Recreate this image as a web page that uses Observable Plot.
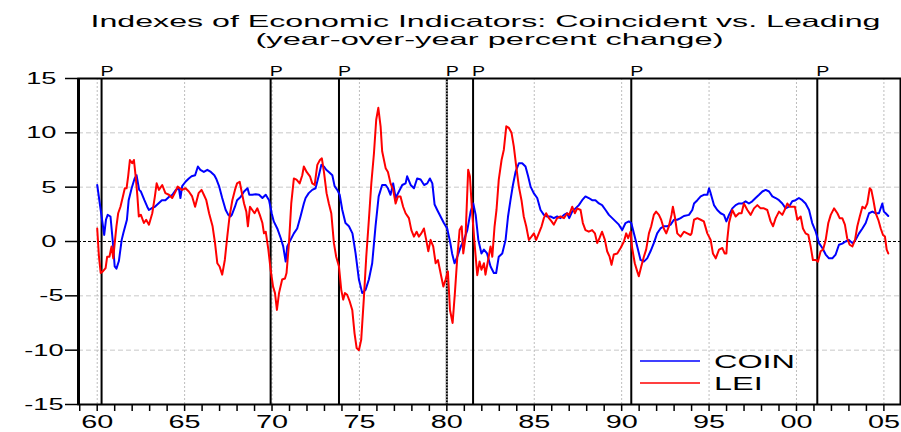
<!DOCTYPE html>
<html><head><meta charset="utf-8">
<script src="https://cdn.jsdelivr.net/npm/d3@7"></script>
<script src="https://cdn.jsdelivr.net/npm/@observablehq/plot@0.6"></script>
<style>body{margin:0;background:#fff} svg{display:block}</style>
</head><body><div id="chart"></div>
<script>
const title = "Indexes of Economic Indicators: Coincident vs. Leading";
const subtitle = "(year-over-year percent change)";
const seriesNames = ["COIN", "LEI"];
const seriesColors = ["#0000ff", "#ff0000"];

const coinYears = [1960.0,1960.2,1960.4,1960.5,1960.6,1960.76,1960.9,1961.0,1961.1,1961.24,1961.4,1961.5,1961.7,1961.8,1961.97,1962.14,1962.25,1962.4,1962.5,1962.7,1962.86,1962.96,1963.15,1963.3,1963.5,1963.7,1963.9,1964.1,1964.3,1964.5,1964.67,1964.76,1964.86,1965.05,1965.24,1965.4,1965.6,1965.76,1965.9,1966.1,1966.3,1966.5,1966.7,1966.8,1966.97,1967.15,1967.35,1967.5,1967.63,1967.7,1967.88,1968.0,1968.2,1968.4,1968.6,1968.7,1968.87,1969.07,1969.26,1969.45,1969.64,1969.83,1969.98,1970.1,1970.3,1970.5,1970.64,1970.78,1970.87,1971.06,1971.25,1971.44,1971.63,1971.82,1971.92,1972.1,1972.3,1972.49,1972.68,1972.82,1972.97,1973.1,1973.25,1973.45,1973.58,1973.73,1973.87,1974.02,1974.2,1974.4,1974.6,1974.78,1974.97,1975.16,1975.35,1975.54,1975.73,1975.92,1976.1,1976.3,1976.5,1976.63,1976.78,1976.93,1977.07,1977.26,1977.45,1977.64,1977.73,1977.93,1978.12,1978.3,1978.5,1978.7,1978.88,1979.03,1979.17,1979.3,1979.45,1979.64,1979.83,1980.02,1980.2,1980.3,1980.44,1980.6,1980.8,1980.98,1981.17,1981.36,1981.51,1981.65,1981.8,1981.98,1982.12,1982.3,1982.5,1982.69,1982.82,1982.97,1983.17,1983.36,1983.5,1983.64,1983.78,1983.93,1984.12,1984.31,1984.5,1984.65,1984.79,1984.97,1985.17,1985.36,1985.55,1985.74,1985.93,1986.12,1986.31,1986.5,1986.7,1986.88,1987.0,1987.17,1987.36,1987.55,1987.74,1987.93,1988.12,1988.31,1988.5,1988.7,1988.88,1989.08,1989.27,1989.46,1989.65,1989.84,1990.03,1990.22,1990.41,1990.55,1990.7,1990.89,1991.08,1991.27,1991.46,1991.65,1991.84,1992.03,1992.22,1992.41,1992.6,1992.8,1992.99,1993.18,1993.37,1993.56,1993.85,1994.04,1994.14,1994.33,1994.52,1994.7,1994.9,1995.0,1995.09,1995.28,1995.47,1995.66,1995.85,1995.99,1996.14,1996.33,1996.52,1996.71,1996.9,1997.09,1997.28,1997.47,1997.66,1997.86,1998.05,1998.24,1998.43,1998.62,1998.81,1999.0,1999.19,1999.38,1999.57,1999.76,1999.95,2000.14,2000.33,2000.52,2000.72,2000.9,2001.1,2001.29,2001.48,2001.67,2001.86,2002.05,2002.24,2002.43,2002.62,2002.81,2003.0,2003.2,2003.38,2003.58,2003.77,2003.96,2004.15,2004.34,2004.53,2004.72,2004.91,2005.0,2005.1,2005.25];
const coinValues = [5.2,2.9,0.6,2.0,2.45,2.3,-0.15,-2.3,-2.5,-1.8,0.15,0.8,2.0,3.8,4.9,5.8,6.1,4.75,4.6,3.8,3.2,2.9,3.1,3.2,3.5,3.8,3.8,4.1,4.3,4.75,4.9,4.0,5.1,5.5,5.8,6.0,6.1,6.9,6.6,6.4,6.6,6.4,6.1,5.8,5.1,4.0,2.9,2.45,2.3,2.45,3.2,3.8,4.1,4.6,4.9,4.3,4.3,4.35,4.3,4.0,4.3,3.8,2.6,1.85,1.2,0.3,-0.45,-1.85,-0.45,0.15,0.75,1.2,2.3,3.5,4.0,4.45,4.75,4.9,6.1,7.05,6.9,6.6,6.4,6.1,5.1,4.75,4.3,2.9,1.7,1.4,0.75,-1.1,-3.5,-4.75,-4.45,-3.5,-2.0,1.4,4.15,5.2,5.2,4.9,4.3,5.35,4.0,4.6,5.2,5.35,6.0,5.2,4.9,5.8,5.7,5.2,5.35,5.8,5.35,3.4,2.9,2.3,1.7,1.2,-0.15,-1.1,-2.0,-1.4,-0.45,0.15,1.05,2.75,3.5,2.45,0.15,-1.1,-0.75,-1.1,-2.3,-2.9,-2.9,-1.4,-1.1,0.15,2.3,3.8,5.2,6.4,7.2,7.2,6.9,6.0,5.05,4.45,4.0,2.9,2.45,2.3,2.3,2.15,2.3,2.15,2.45,2.6,2.15,2.75,3.05,3.35,3.8,4.15,4.0,3.8,3.8,3.5,3.35,2.9,2.45,2.15,1.85,1.55,1.05,1.7,1.85,1.7,0.75,-0.45,-1.7,-1.85,-1.55,-0.9,-0.15,0.75,1.2,1.4,1.4,1.55,2.0,2.0,2.15,2.35,2.45,2.9,3.5,3.8,4.15,4.3,4.3,4.9,4.45,3.35,2.9,2.6,2.45,1.85,2.45,3.05,3.35,3.5,3.5,3.7,3.5,3.7,4.0,4.3,4.6,4.75,4.6,4.15,4.0,3.8,3.5,3.05,3.2,3.7,3.8,4.0,3.8,3.5,2.9,1.7,0.9,-0.15,-0.6,-1.2,-1.55,-1.55,-1.2,-0.3,-0.2,0.0,0.15,-0.15,0.15,0.75,1.2,1.7,2.6,2.75,2.6,2.6,3.5,2.75,2.6,2.35];

const leiYears = [1960.0,1960.1,1960.2,1960.32,1960.48,1960.57,1960.7,1960.82,1960.92,1961.0,1961.1,1961.2,1961.33,1961.47,1961.58,1961.68,1961.77,1961.87,1962.0,1962.1,1962.2,1962.3,1962.38,1962.5,1962.67,1962.8,1962.96,1963.15,1963.3,1963.4,1963.53,1963.72,1963.9,1964.1,1964.29,1964.48,1964.6,1964.86,1965.05,1965.24,1965.43,1965.6,1965.8,1965.97,1966.1,1966.24,1966.4,1966.6,1966.74,1966.87,1967.0,1967.15,1967.3,1967.44,1967.57,1967.73,1967.88,1968.0,1968.15,1968.26,1968.4,1968.53,1968.62,1968.74,1968.87,1969.0,1969.16,1969.3,1969.45,1969.54,1969.64,1969.79,1969.92,1970.06,1970.17,1970.28,1970.4,1970.58,1970.74,1970.83,1970.97,1971.1,1971.25,1971.4,1971.58,1971.73,1971.82,1971.98,1972.17,1972.3,1972.44,1972.59,1972.74,1972.85,1972.97,1973.12,1973.25,1973.39,1973.54,1973.67,1973.83,1973.96,1974.07,1974.17,1974.3,1974.44,1974.59,1974.72,1974.84,1974.97,1975.1,1975.26,1975.39,1975.54,1975.68,1975.83,1975.96,1976.08,1976.21,1976.3,1976.5,1976.63,1976.78,1976.93,1977.07,1977.2,1977.35,1977.5,1977.64,1977.83,1977.97,1978.12,1978.27,1978.4,1978.54,1978.69,1978.82,1978.94,1979.07,1979.22,1979.36,1979.49,1979.64,1979.8,1979.93,1980.06,1980.18,1980.33,1980.46,1980.6,1980.73,1980.85,1980.94,1981.07,1981.22,1981.32,1981.45,1981.6,1981.74,1981.87,1981.98,1982.12,1982.21,1982.36,1982.5,1982.6,1982.73,1982.84,1982.97,1983.13,1983.26,1983.4,1983.55,1983.7,1983.83,1983.97,1984.12,1984.27,1984.4,1984.54,1984.69,1984.84,1984.98,1985.11,1985.26,1985.42,1985.55,1985.68,1985.84,1985.99,1986.12,1986.31,1986.5,1986.7,1986.88,1987.0,1987.17,1987.32,1987.46,1987.65,1987.78,1987.93,1988.12,1988.31,1988.47,1988.6,1988.73,1988.88,1989.04,1989.17,1989.31,1989.42,1989.55,1989.75,1989.94,1990.13,1990.26,1990.37,1990.51,1990.6,1990.75,1990.89,1990.98,1991.12,1991.27,1991.4,1991.56,1991.69,1991.84,1991.97,1992.13,1992.26,1992.41,1992.55,1992.7,1992.85,1992.93,1993.04,1993.18,1993.37,1993.56,1993.75,1993.94,1994.0,1994.14,1994.33,1994.52,1994.7,1994.9,1995.09,1995.22,1995.38,1995.57,1995.76,1995.89,1995.99,1996.04,1996.14,1996.33,1996.52,1996.71,1996.86,1996.99,1997.19,1997.38,1997.57,1997.76,1997.95,1998.14,1998.33,1998.52,1998.66,1998.81,1999.0,1999.19,1999.32,1999.48,1999.61,1999.76,1999.91,2000.05,2000.24,2000.37,2000.52,2000.68,2000.81,2000.94,2001.1,2001.23,2001.38,2001.52,2001.67,2001.82,2001.96,2002.15,2002.34,2002.47,2002.62,2002.77,2002.9,2003.04,2003.2,2003.35,2003.48,2003.62,2003.77,2003.92,2004.05,2004.19,2004.28,2004.4,2004.53,2004.68,2004.82,2004.95,2005.06,2005.16,2005.25];
const leiValues = [1.2,-1.4,-2.9,-2.75,-2.45,-1.4,-1.4,-0.45,-1.55,-0.15,1.4,2.6,3.2,4.15,4.9,4.9,6.0,7.5,7.2,7.5,6.0,4.15,2.3,2.45,1.7,2.0,1.55,2.6,4.15,5.35,4.75,5.2,4.45,4.3,4.0,4.6,5.05,4.75,4.9,4.6,4.15,3.2,4.45,4.75,4.3,3.8,2.6,1.4,-0.15,-2.0,-2.3,-3.05,-1.7,0.45,2.3,3.8,4.75,5.35,5.5,4.6,3.5,2.75,1.4,3.2,2.9,2.6,3.05,2.45,1.7,0.75,0.9,-0.75,-2.6,-4.15,-4.75,-6.3,-4.75,-3.5,-3.4,-2.9,-0.15,3.5,5.8,5.7,5.35,6.1,6.9,6.4,6.0,5.35,5.2,7.05,7.5,7.65,6.4,4.45,3.5,2.6,-0.15,-1.4,-2.3,-4.45,-5.35,-4.75,-4.9,-5.5,-6.3,-8.45,-9.8,-10.0,-9.05,-5.05,-1.4,2.0,5.35,8.1,11.2,12.3,10.6,8.3,6.75,6.4,5.35,4.75,3.5,4.15,4.15,3.2,2.6,2.15,1.05,0.45,0.9,0.45,0.75,1.2,0.15,-0.9,0.15,-0.45,-2.0,-1.7,-2.9,-4.15,-3.5,-2.75,-6.3,-7.5,-4.75,-1.4,1.05,1.4,-1.1,0.45,6.6,6.0,2.6,-0.45,-3.1,-1.85,-2.6,-2.0,-3.05,-1.7,-0.45,-1.4,1.4,2.9,5.7,7.5,8.45,10.6,10.45,10.0,8.75,6.9,5.05,3.8,2.3,1.4,0.15,0.45,0.75,0.15,0.75,1.4,2.15,2.6,2.15,1.85,1.55,2.15,2.3,2.15,2.6,2.45,3.2,2.6,3.05,2.9,1.7,1.05,0.9,1.05,0.75,-0.15,0.3,0.9,0.15,-0.9,-1.4,-2.15,-1.2,-1.1,-0.6,0.0,0.75,0.3,0.9,-0.6,-2.0,-2.75,-3.2,-2.3,-1.4,-0.75,0.75,1.4,2.45,2.75,2.45,2.0,1.2,0.75,1.4,2.45,3.2,2.3,0.75,0.45,0.9,0.75,0.6,0.75,2.0,2.15,2.0,1.85,0.75,0.15,-1.1,-1.55,-0.75,-0.6,-1.1,-1.1,0.15,1.7,2.9,2.3,2.6,2.6,3.5,2.9,2.45,3.05,3.35,3.05,3.05,2.9,1.85,1.4,2.15,2.75,2.45,2.9,3.5,3.2,3.2,3.2,2.0,2.3,1.2,0.75,0.6,-0.45,-1.7,-1.7,-1.85,-0.9,-0.75,0.15,1.7,2.45,3.05,2.6,2.15,2.15,1.55,0.3,-0.3,-0.45,0.15,1.4,2.3,3.2,3.05,3.5,4.9,4.75,3.8,2.6,2.0,1.2,0.6,0.45,-0.75,-1.1];

// NBER business-cycle peaks marked "P"
const peakDates = [1960.25, 1969.92, 1973.83, 1980.0, 1981.5, 1990.55, 2001.19];
const peakLabel = "P";

const yTickValues = [-15, -10, -5, 0, 5, 10, 15];
const yTickLabels = ["-15", "-10", "-5", "0", "5", "10", "15"];
const xLabelYears = [1960, 1965, 1970, 1975, 1980, 1985, 1990, 1995, 2000, 2005];
const xTickLabels = ["60", "65", "70", "75", "80", "85", "90", "95", "00", "05"];
const xMinorYears = d3.range(1959, 2006);
const yGridValues = [-10, -5, 5, 10];

const coin = coinYears.map((x, i) => ({x, y: coinValues[i]}));
const lei = leiYears.map((x, i) => ({x, y: leiValues[i]}));
const posTicks = yTickValues.map((v, i) => ({v, t: yTickLabels[i]})).filter(d => d.v >= 0);
const negTicks = yTickValues.map((v, i) => ({v, t: yTickLabels[i]})).filter(d => d.v < 0);
const xLabels = xLabelYears.map((v, i) => ({v, t: xTickLabels[i]}));

const FONT = "'Liberation Sans', Arial, Helvetica, sans-serif";

const svg = Plot.plot({
  width: 901, height: 432,
  marginLeft: 78, marginRight: 1, marginTop: 78, marginBottom: 28,
  x: {domain: [1958.93, 2005.95]},
  y: {domain: [-15, 15]},
  style: {fontFamily: FONT, background: "white", color: "black"},
  marks: [
    Plot.gridY(yGridValues, {stroke: "#c8c8c8", strokeOpacity: 1, strokeDasharray: "5,3"}),
    Plot.gridX(xLabelYears, {stroke: "#bdbdbd", strokeOpacity: 1, strokeDasharray: "2,2"}),
    Plot.ruleY([0], {stroke: "black", strokeWidth: 1, strokeDasharray: "3,2"}),
    Plot.ruleX(peakDates, {stroke: "black", strokeWidth: 2}),
    Plot.ruleX(peakDates.filter(d => d === 1980.0), {stroke: "#9a9a9a", strokeWidth: 2, strokeDasharray: "1.5,1.5"}),
    Plot.line(coin, {x: "x", y: "y", stroke: seriesColors[0], strokeWidth: 2}),
    Plot.line(lei, {x: "x", y: "y", stroke: seriesColors[1], strokeWidth: 2}),
    Plot.frame({stroke: "black", strokeWidth: 2}),
    Plot.ruleX([1958.93], {stroke: "black", strokeWidth: 3}),
    Plot.axisY({ticks: yTickValues, tickSize: 13, tickFormat: () => "", strokeWidth: 1.5}),
    Plot.axisX({ticks: xMinorYears, tickSize: 7, tickFormat: () => "", strokeWidth: 1.5}),
    Plot.text(posTicks, {y: "v", text: "t", frameAnchor: "left", dx: -22, textAnchor: "end", fontSize: 17}),
    Plot.text(negTicks, {y: "v", text: "t", frameAnchor: "left", dx: -15, textAnchor: "end", fontSize: 17}),
    Plot.text(xLabels, {x: "v", text: "t", frameAnchor: "bottom", dy: 11, lineAnchor: "top", fontSize: 18}),
    Plot.text(peakDates, {x: d => d, text: () => peakLabel, frameAnchor: "top", dy: -3, dx: -1, lineAnchor: "bottom", textAnchor: "start", fontSize: 14}),
    Plot.text([title], {text: d => d, frameAnchor: "top", dx: -4, dy: -52, lineAnchor: "bottom", fontSize: 16.5}),
    Plot.text([subtitle], {text: d => d, frameAnchor: "top", dx: 0, dy: -34, lineAnchor: "bottom", fontSize: 16.5})
  ]
});
document.getElementById("chart").appendChild(svg);

// Legend (inside the plot area, lower right)
const sel = d3.select(svg);
const lg = sel.append("g").attr("aria-label", "legend").attr("font-family", FONT).attr("text-anchor", "start");
seriesNames.forEach((name, i) => {
  const yy = 361 + i * 22;
  lg.append("line").attr("x1", 640).attr("x2", 700).attr("y1", yy).attr("y2", yy)
    .attr("stroke", seriesColors[i]).attr("stroke-width", 1.3);
  lg.append("text").attr("x", 714).attr("y", yy + 7).attr("font-size", 18).attr("fill", "black").text(name);
});

// The reference typography is horizontally wide: stretch glyphs
function stretchText(node, factor, target) {
  const w = node.getComputedTextLength();
  if (!w) return;
  node.setAttribute("textLength", target || w * factor);
  node.setAttribute("lengthAdjust", "spacingAndGlyphs");
}
sel.selectAll("text").each(function () {
  const t = this.textContent;
  if (!t) return;
  if (t === title) stretchText(this, 1, 790);
  else if (t === subtitle) stretchText(this, 1, 468);
  else if (t === peakLabel) stretchText(this, 1.4);
  else if (seriesNames.includes(t)) stretchText(this, 1.8);
  else if (yTickLabels.includes(t) || xTickLabels.includes(t)) stretchText(this, 1.6);
});
</script>
</body></html>
